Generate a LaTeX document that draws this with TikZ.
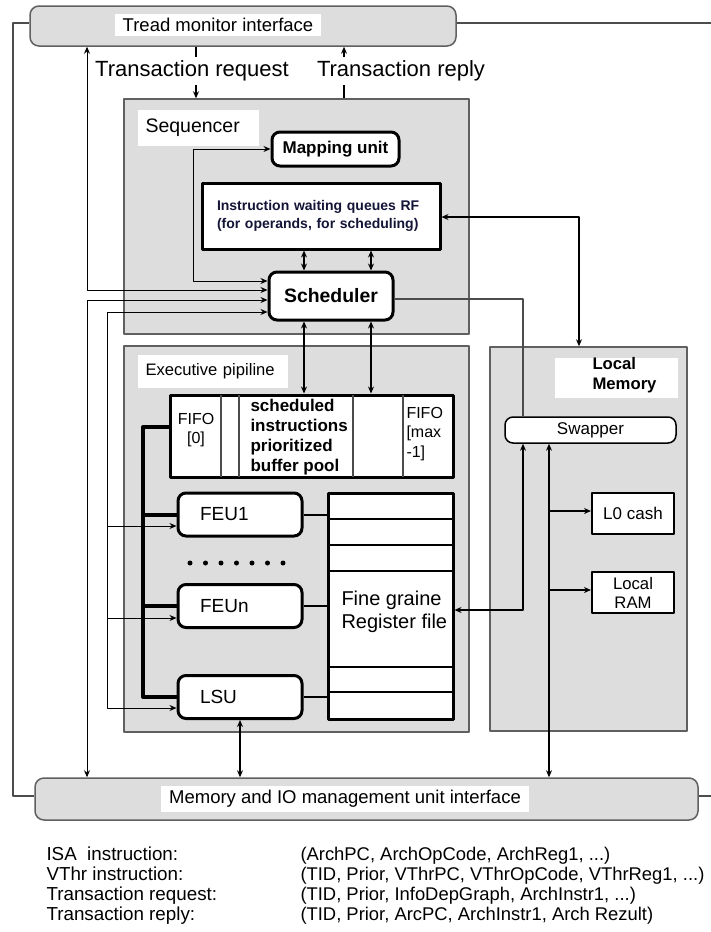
\documentclass[tikz,border=0pt]{standalone}
\usepackage{fontspec}
\setmainfont{Liberation Sans}
\usetikzlibrary{arrows.meta}
\usetikzlibrary{positioning}
\usetikzlibrary{calc}
\definecolor{panelgray}{RGB}{221,221,221}
\definecolor{edgegray}{RGB}{96,96,96}
\definecolor{inkblue}{RGB}{20,20,55}
\newcommand{\fsz}[2]{\fontsize{#1}{#2}\selectfont}
\tikzstyle{every node}=[font=\fsz{17}{20}]
\tikzstyle{every path}=[line width=1pt,line join=round]
\tikzstyle{iface}=[draw=edgegray,fill=panelgray,line width=1.5pt,rounded corners=9pt]
\tikzstyle{panel}=[draw=edgegray,fill=panelgray,line width=1.5pt]
\tikzstyle{lbl}=[fill=white,anchor=north west,align=left,inner xsep=8pt,inner ysep=0pt]
\tikzstyle{title}=[fill=white,inner xsep=8pt,inner ysep=4pt,font=\fsz{18.5}{22}]
\tikzstyle{unitbox}=[draw,fill=white,line width=3pt,rounded corners=8pt]
\tikzstyle{heavybox}=[draw,fill=white,line width=3pt]
\tikzstyle{membox}=[draw,fill=white,line width=2pt]
\tikzstyle{feu}=[unitbox,text width=80pt,inner xsep=22pt,minimum height=43pt,font=\fsz{19}{22}]
\tikzstyle{wire}=[line width=1pt]
\tikzstyle{loopline}=[line width=1.2pt,draw=black!70]
\tikzstyle{bus}=[line width=2pt]
\tikzstyle{spine}=[line width=4pt]

\begin{document}
\begin{tikzpicture}[x=1pt,y=-1pt,>={Stealth[length=7pt,width=6pt]}]
\useasboundingbox (0,0) rectangle (711,932);

% interfaces
\node[iface,minimum width=426pt,minimum height=40pt] (tread) at (243,26) {};
\node[title] (treadtxt) at (218,25) {Tread monitor interface};
\node[iface,minimum width=663pt,minimum height=42pt] (memio) at (366.5,799) {};
\node[title] (memiotxt) at (345,799) {Memory and IO management unit interface};

% panels
\node[panel,minimum width=345pt,minimum height=235pt] (seq) at (296.5,216.5) {};
\node[lbl,text width=105pt,minimum height=36pt,font=\fsz{19.5}{22}] (seqlbl) at (137,109) {Sequencer};
\node[panel,minimum width=345pt,minimum height=386pt] (exe) at (296.5,539) {};
\node[lbl,text width=134pt,minimum height=33pt,font=\fsz{16.6}{20}] (exelbl) at (137,354) {Executive pipiline};
\node[panel,minimum width=197pt,minimum height=384pt] (lmem) at (588.5,539) {};
\node[fill=white,anchor=north west,minimum width=123pt,minimum height=40pt] (lmembg) at (554,357) {};
\node[anchor=west,align=left,inner sep=0pt,font=\bfseries\fsz{16.7}{20}] (lmemtxt) at (592,375) {Local\\Memory};

% sequencer
\node[unitbox,minimum width=127pt,minimum height=34pt,font=\bfseries\fsz{17}{20}] (map) at (335.5,149) {Mapping unit};
\node[heavybox,text width=208pt,inner xsep=15pt,minimum height=66pt,align=left,text=inkblue,font=\bfseries\fsz{14}{18}] (queue) at (321,216) {Instruction waiting queues RF\\(for operands, for scheduling)};
\node[unitbox,minimum width=124pt,minimum height=48pt,font=\bfseries\fsz{19.4}{22}] (sched) at (331,296) {Scheduler};

% pipeline
\node[heavybox,minimum width=283pt,minimum height=82pt] (pool) at (311.5,436) {};
\foreach \x in {221,239,353,403}
  \draw[line width=1.2pt,black!70,shorten <=1.5pt,shorten >=1.5pt] (pool.north -| \x,0) -- (pool.south -| \x,0);
\node[align=center,inner sep=0pt,font=\fsz{16}{19}] (fifofirst) at (196,430) {FIFO\\{[0]}};
\node[anchor=west,align=left,inner sep=0pt,font=\bfseries\fsz{17}{20}] (pooltxt) at (250,437) {scheduled\\instructions\\prioritized\\buffer pool};
\node[anchor=west,align=left,inner sep=0pt,font=\fsz{16}{19.5}] (fifolast) at (406,434) {FIFO\\{[max}\\-1]};

\node[feu] (feu1) at (240,514.5) {FEU1};
\node[feu] (feun) at (240,606) {FEUn};
\node[feu] (lsu) at (240,697) {LSU};
\foreach \i in {0,...,6}
  \fill (190+15.5*\i,563) circle[radius=2.5pt];

\node[heavybox,minimum width=125pt,minimum height=226pt] (reg) at (390.5,606) {};
\foreach \y in {519,545,571,667,692}
  \draw[line width=1.2pt,shorten <=1.5pt,shorten >=1.5pt] (reg.west |- 0,\y) -- (reg.east |- 0,\y);
\node[anchor=west,align=left,inner sep=0pt,font=\fsz{20}{23}] (regtxt) at (341,612) {Fine graine\\Register file};

% local memory
\node[draw,fill=white,line width=1.5pt,rounded corners=8pt,minimum width=171pt,minimum height=26pt] (swap) at (590.5,430) {Swapper};
\node[membox,minimum width=82pt,minimum height=41pt] (l0) at (633,513.5) {L0 cash};
\node[membox,minimum width=82pt,minimum height=41pt,align=center,font=\fsz{16.7}{19}] (ram) at (633,592.5) {Local\\RAM};

% connectors
\draw[loopline] (tread.west |- 0,23) -| (13,796) -- (memio.west |- 0,796);
\draw[loopline] (tread.east |- 0,23) -- (711,23);
\draw[loopline] (memio.east |- 0,796) -- (711,796);

\draw[bus,->] (tread.south -| 196,0) -- (seq.north -| 196,0);
\draw[bus,->] (seq.north -| 344,0) -- (tread.south -| 344,0);
\node[fill=white,inner xsep=2pt,font=\fsz{22}{26}] (treq) at (192,71) {Transaction request};
\node[fill=white,inner xsep=2pt,font=\fsz{22}{26}] (trep) at (401,71) {Transaction reply};

\foreach \x in {304,371} {
  \draw[bus,<->] (queue.south -| \x,0) -- (sched.north -| \x,0);
  \draw[bus,<->] (sched.south -| \x,0) -- (pool.north -| \x,0);
}
\draw[wire,<->] (map.west) -- ++(-77,0) |- (sched.west |- 0,281);
\draw[wire,<->] (tread.south -| 87,0) |- (sched.west |- 0,290);
\draw[wire,<->] (memio.north -| 87,0) |- (sched.west |- 0,300);
\coordinate (trunk) at (107,312);
\draw[wire,<->] (lsu.west |- 0,708) -| (trunk) -- (sched.west |- trunk);
\draw[wire,->] (trunk |- 0,526) -- (feu1.west |- 0,526);
\draw[wire,->] (trunk |- 0,618) -- (feun.west |- 0,618);

\coordinate (bend) at (143,427);
\draw[spine] (pool.west |- bend) -- (bend) |- (lsu.west);
\draw[spine] (bend |- feu1.west) -- (feu1.west);
\draw[spine] (bend |- feun.west) -- (feun.west);
\foreach \n in {feu1,feun,lsu}
  \draw[bus] (\n.east) -- (\n.east -| reg.west);
\draw[bus,<->] (lsu.south) -- (memio.north -| lsu.south);

\draw[bus,<->] (queue.east |- 0,217) -| (lmem.north -| 579,0);
\draw[loopline] (sched.east |- 0,299) -| (swap.north -| 523,0);
\draw[bus,<->] (swap.south -| 523,0) |- (reg.east |- 0,610);
\draw[bus,<->] (swap.south -| 549,0) -- (memio.north -| 549,0);
\draw[bus,->] (549,511) -- (l0.west |- 0,511);
\draw[bus,->] (549,590) -- (ram.west |- 0,590);

% legend
\node[anchor=west,align=left,inner sep=0pt,font=\fsz{18.8}{20}] (legkey) at (46,886) {ISA\ \ instruction:\\VThr instruction:\\Transaction request:\\Transaction reply:};
\node[anchor=west,align=left,inner sep=0pt,font=\fsz{18.4}{20}] (legval) at (300,886) {(ArchPC, ArchOpCode, ArchReg1, ...)\\(TID, Prior, VThrPC, VThrOpCode, VThrReg1, ...)\\(TID, Prior, InfoDepGraph, ArchInstr1, ...)\\(TID, Prior, ArcPC, ArchInstr1, Arch Rezult)};
\end{tikzpicture}
\end{document}
